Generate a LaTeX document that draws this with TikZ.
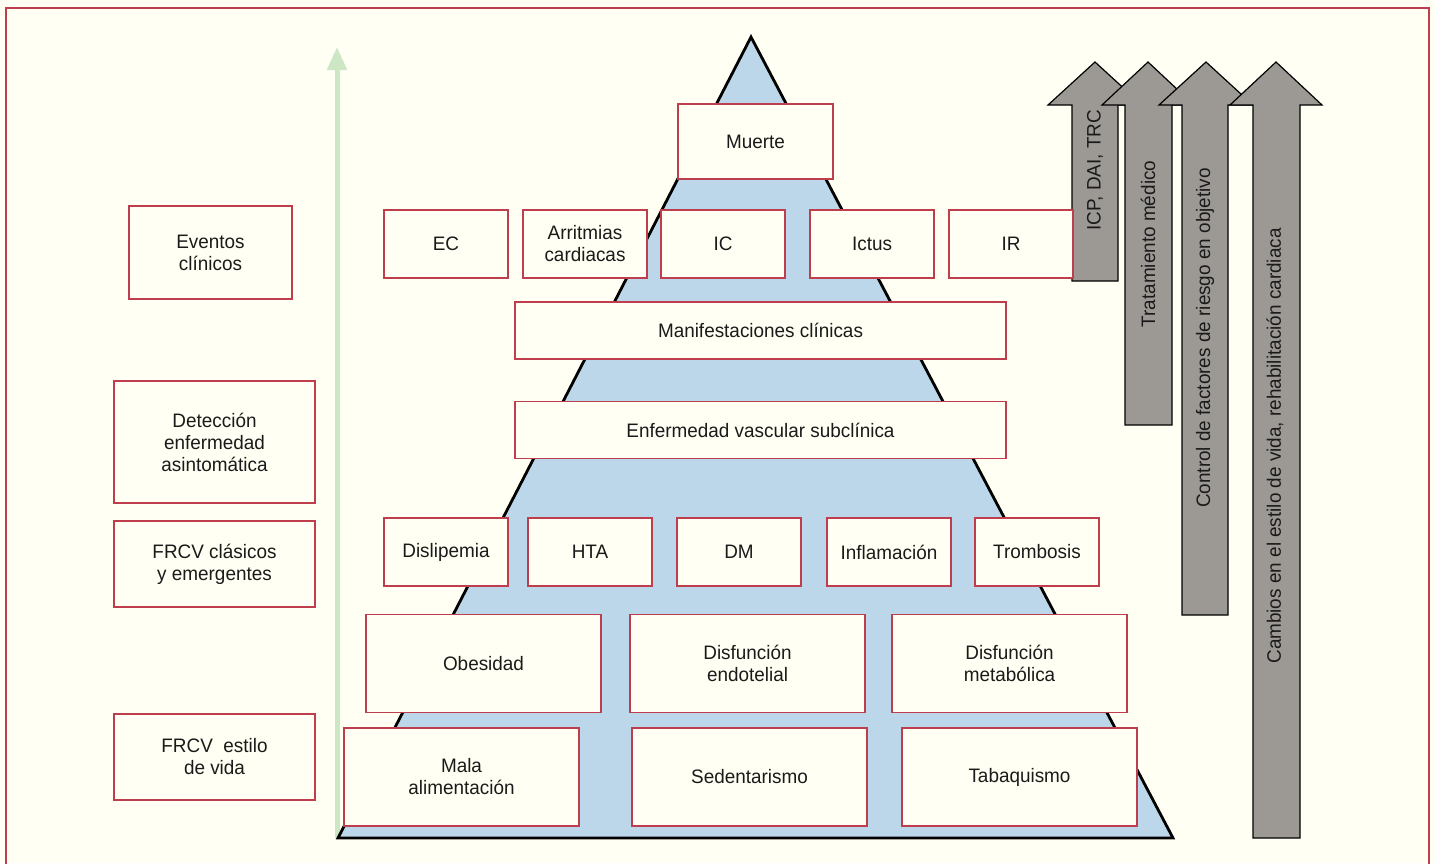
\documentclass[tikz,border=0pt]{standalone}
\usepackage{fontspec}
\setmainfont{Liberation Sans}[FakeStretch=0.97]
\usetikzlibrary{arrows.meta}
\definecolor{cream}{RGB}{255,255,243}
\definecolor{boxred}{RGB}{190,62,78}
\definecolor{pyrblue}{RGB}{189,215,234}
\definecolor{arrgray}{RGB}{156,153,149}
\definecolor{lgreen}{RGB}{205,230,196}
\definecolor{txt}{RGB}{26,26,26}
\tikzset{
  box/.style={draw=boxred, fill=cream, line width=1.4pt, align=center, inner sep=0pt,
    text=txt, font=\fontsize{19.5}{22}\selectfont},
  smallbox/.style={box, minimum width=124pt, minimum height=68pt},
  bigbox/.style={box, minimum width=235pt, minimum height=98pt},
  widebox/.style={box, minimum width=491pt, minimum height=57pt},
  sidebox/.style={box, minimum width=201pt},
  grayarrow/.style={draw=black, fill=arrgray, line width=1.2pt, line join=miter},
  arrlabel/.style={rotate=90, text=txt, font=\fontsize{19.5}{22}\selectfont, inner sep=0pt},
}
\begin{document}
\begin{tikzpicture}[x=1pt,y=-1pt]
\clip (0,0) rectangle (1435,863);
\fill[cream] (0,0) rectangle (1435,863);
\draw[boxred, line width=1.2pt] (6,8) rectangle (1429,880);

% green arrow
\coordinate (gbot) at (337,838);
\coordinate (gtop) at (337,47);
\draw[lgreen, line width=5pt, -{Triangle[width=19pt,length=23pt]}] (gbot) -- (gtop);

% pyramid
\draw[fill=pyrblue, line width=2.8pt, line join=miter] (751,37) -- (1173,838) -- (338,838) -- cycle;

% gray arrows
\draw[grayarrow] (1072,281) -- (1072,105) -- (1048,105) -- (1095,62) -- (1142,105) -- (1118,105) -- (1118,281) -- cycle;
\draw[grayarrow] (1125,425) -- (1125,105) -- (1102,105) -- (1148,62) -- (1194,105) -- (1172,105) -- (1172,425) -- cycle;
\draw[grayarrow] (1182,615) -- (1182,105) -- (1159,105) -- (1206,62) -- (1253,105) -- (1228,105) -- (1228,615) -- cycle;
\draw[grayarrow] (1253,838) -- (1253,105) -- (1230,105) -- (1276,62) -- (1322,105) -- (1300,105) -- (1300,838) -- cycle;
\node[arrlabel] (a1) at (1095,170) {ICP, DAI, TRC};
\node[arrlabel] (a2) at (1148,244) {Tratamiento médico};
\node[arrlabel] (a3) at (1205,338) {Control de factores de riesgo en objetivo};
\node[arrlabel] (a4) at (1275,446) {Cambios en el estilo de vida, rehabilitación cardiaca};

% pyramid boxes
\node[box, minimum width=155pt, minimum height=75pt] (muerte) at (755.5,141.5) {Muerte};
\node[smallbox] (ec) at (446,244) {EC};
\node[smallbox] (arr) at (585,244) {Arritmias\\cardiacas};
\node[smallbox] (ic) at (723,244) {IC};
\node[smallbox] (ictus) at (872,244) {Ictus};
\node[smallbox] (ir) at (1011,244) {IR};
\node[widebox] (manif) at (760.5,330.5) {Manifestaciones clínicas};
\node[widebox] (enf) at (760.5,430) {Enfermedad vascular subclínica};
\node[smallbox] (disl) at (446,552) {Dislipemia};
\node[smallbox] (hta) at (590,552) {HTA};
\node[smallbox] (dm) at (739,552) {DM};
\node[smallbox] (infl) at (889,552) {Inflamación};
\node[smallbox] (tromb) at (1037,552) {Trombosis};
\node[bigbox] (obes) at (483.5,663.5) {Obesidad};
\node[bigbox] (dendo) at (747.5,663.5) {Disfunción\\endotelial};
\node[bigbox] (dmeta) at (1009.5,663.5) {Disfunción\\metabólica};
\node[bigbox] (mala) at (461.5,777) {Mala\\alimentación};
\node[bigbox] (sed) at (749.5,777) {Sedentarismo};
\node[bigbox] (tab) at (1019.5,777) {Tabaquismo};

% side boxes
\node[box, minimum width=163pt, minimum height=93pt] (eventos) at (210.5,252.5) {Eventos\\clínicos};
\node[sidebox, minimum height=122pt] (detec) at (214.5,442) {Detección\\enfermedad\\asintomática};
\node[sidebox, minimum height=86pt] (frcvc) at (214.5,564) {FRCV clásicos\\y emergentes};
\node[sidebox, minimum height=86pt] (frcve) at (214.5,757) {FRCV\ \ estilo\\de vida};
\end{tikzpicture}
\end{document}
